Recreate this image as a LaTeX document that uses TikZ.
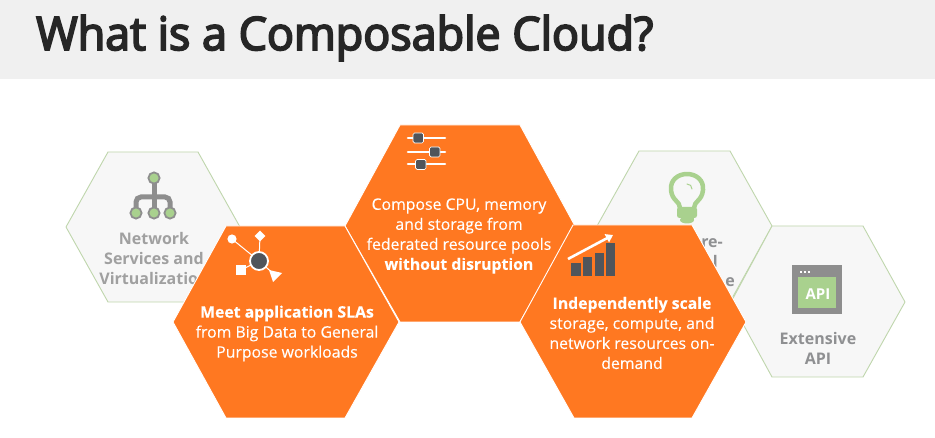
\documentclass[tikz,border=0pt]{standalone}
\usepackage{fontspec}
\setmainfont{Open Sans}
\newfontfamily\ttlfont[FakeBold=4]{Open Sans}
\newfontfamily\bodyfont[FakeBold=0.25]{Open Sans}
\usetikzlibrary{arrows.meta}
\definecolor{hexor}{HTML}{FF7821}
\definecolor{hexgr}{HTML}{F7F7F7}
\definecolor{hexed}{HTML}{BFD6AC}
\definecolor{barbg}{HTML}{F0F0F0}
\definecolor{ttl}{HTML}{262626}
\definecolor{icdark}{HTML}{50555B}
\definecolor{icgr}{HTML}{8E8E8E}
\definecolor{icgn}{HTML}{A9D18E}
\definecolor{txgr}{HTML}{A0A0A0}
\definecolor{txgr2}{HTML}{8F9092}
\tikzset{
  orhex/.style={fill=hexor,draw=white,line width=0.9pt,line join=round},
  grhex/.style={fill=hexgr,draw=hexed,line width=0.9pt,line join=round},
  wtxt/.style={text=white,align=center,inner sep=0pt,font=\fontsize{15.8}{20}\selectfont\bodyfont},
  gtxt/.style={text=txgr,align=center,inner sep=0pt,font=\fontsize{16}{20}\selectfont\bfseries},
  g2txt/.style={text=txgr2,align=center,inner sep=0pt,font=\fontsize{16}{20}\selectfont\bfseries},
  frag/.style={text=txgr2,inner sep=0pt,anchor=base east,font=\fontsize{16}{20}\selectfont\bfseries},
  slider/.style={fill=icdark,draw=white,line width=0.7pt,rounded corners=1.5pt},
}
\begin{document}
\begin{tikzpicture}[x=1pt,y=-1pt]
\useasboundingbox (0,0) rectangle (935,438);
\fill[white] (0,0) rectangle (935,438);
\fill[barbg] (0,0) rectangle (935,79);
\node[anchor=base west,inner sep=0pt,text=ttl,xscale=0.975,font=\fontsize{46}{50}\selectfont\ttlfont] (title) at (36,50) {What is a Composable Cloud?};

% grey hexagons
\draw[grhex] (108,152)--(198,152)--(240,227)--(198,302)--(108,302)--(66,227)--cycle;
\draw[grhex] (639,151)--(730,151)--(772,226)--(730,302)--(639,302)--(597,226)--cycle;
\node[frag] (f1) at (723,248) {re-};
\node[frag] (f2) at (718,268) {l};
\node[frag] (f3) at (735,287) {e};
\draw[grhex] (772,226)--(863,226)--(905,302)--(863,377)--(772,377)--(731,302)--cycle;

% network icon
\draw[icgr,line width=5pt,line cap=round,rounded corners=5pt] (136,212)--(136,197)--(170,197)--(170,212);
\draw[icgr,line width=5pt] (154,178)--(154,212);
\foreach \p in {(154,178),(136,213),(154,213),(170,213)}
  \fill[icgn,draw=icgr,line width=1.8pt] \p circle (5.6);
\node[gtxt] (nettxt) at (154,259) {Network\\Services and\\Virtualization};

% bulb icon
\draw[icgn,line width=4.5pt,line join=round]
  (680,208) .. controls (680,201) and (672,201) .. (671,190)
  .. controls (670,180) and (678,174) .. (687,174)
  .. controls (696,174) and (704,180) .. (703,190)
  .. controls (702,201) and (694,201) .. (694,208);
\fill[icgn,rounded corners=2.5pt] (677,207) rectangle (697,218);
\fill[icgn] (681,216) rectangle (694,220);
\fill[icgn] (687,220) ellipse (7 and 3.5);
\draw[icgn,line width=1pt,line cap=round] (687,184) .. controls (690,184) and (692,186) .. (692,189);

% API icon
\fill[icgr] (792,265) rectangle (842,314);
\fill[icgn] (798,277) rectangle (836,308);
\foreach \x in {800,804,808} \fill[white] (\x,270.8) rectangle ++(2.2,2.4);
\node[inner sep=0pt,text=white,font=\fontsize{15}{18}\selectfont\bfseries] (apilbl) at (818,294) {API};
\node[g2txt] (apitxt) at (818,348) {Extensive\\API};

% orange hexagons
\draw[orhex] (400,125)--(520,125)--(575,226)--(520,322)--(400,322)--(345,226)--cycle;
\draw[orhex] (226,226)--(345,226)--(399,322)--(345,418)--(226,418)--(173,322)--cycle;
\draw[orhex] (573,225)--(692,225)--(746,322)--(692,418)--(574,418)--(520,322)--cycle;

% slider icon
\foreach \y in {138,152,164}
  \draw[white,line width=2.6pt,line cap=round] (408,\y)--(445,\y);
\draw[slider] (413,133) rectangle ++(10.5,10);
\draw[slider] (429.5,147) rectangle ++(10.5,10);
\draw[slider] (415.5,159.5) rectangle ++(10.5,10);
\node[wtxt] (midtxt) at (459,236) {Compose CPU, memory\\and storage from\\federated resource pools\\\textbf{without disruption}};

% SLA icon
\draw[white,line width=1pt] (232,239)--(259,261);
\draw[white,line width=1pt] (260,236)--(259,261);
\draw[white,line width=1pt] (241,270)--(259,261);
\draw[white,line width=1pt] (275,275)--(259,261);
\fill[white] (232,239) circle (4.6);
\fill[white] (260,230.5)--(265.3,236)--(260,241.5)--(254.7,236)--cycle;
\fill[white] (236.2,265.3) rectangle (245.6,274.7);
\fill[white] (269,270)--(282,273)--(273,282)--cycle;
\fill[icdark,draw=white,line width=1.8pt] (259,261) circle (9);
\node[wtxt] (slatxt) at (287,333.5) {\textbf{Meet application SLAs}\\from Big Data to General\\Purpose workloads};

% chart icon
\fill[icdark] (571,263) rectangle (581,276);
\fill[icdark] (583,257) rectangle (592,276);
\fill[icdark] (595,253) rectangle (604,276);
\fill[icdark] (606,243) rectangle (615,276);
\coordinate (ars) at (568,259);
\coordinate (are) at (613,235);
\draw[white,line width=2.6pt,-{Triangle[length=7pt,width=9pt]}] (ars)--(are);
\node[wtxt] (scatxt) at (632,333) {\textbf{Independently scale}\\storage, compute, and\\network resources on-\\demand};
\end{tikzpicture}
\end{document}
